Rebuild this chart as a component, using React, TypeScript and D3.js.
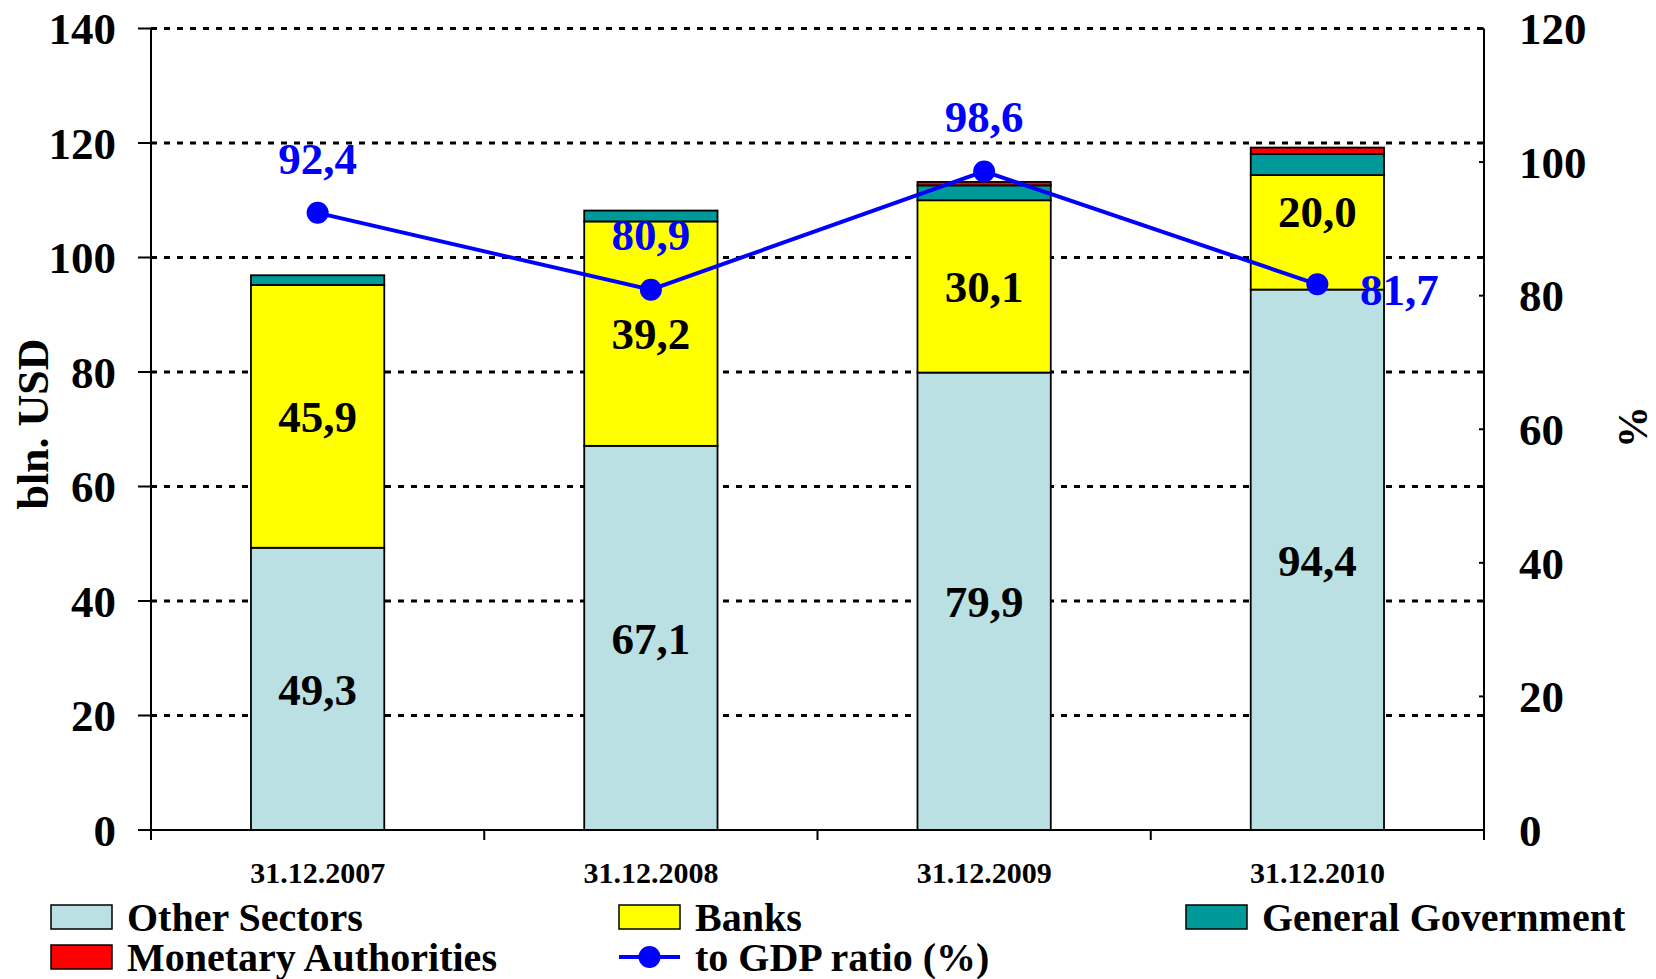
import React from "react";
import * as d3 from "d3";

const categories = ["31.12.2007", "31.12.2008", "31.12.2009", "31.12.2010"];
const otherSectors = [49.3, 67.1, 79.9, 94.4];
const banks = [45.9, 39.2, 30.1, 20.0];
const generalGov = [1.7, 1.9, 2.6, 3.7];
const monetaryAuth = [0, 0, 0.6, 1.1];
const gdpRatio = [92.4, 80.9, 98.6, 81.7];
const leftTicks = [0, 20, 40, 60, 80, 100, 120, 140];
const rightTicks = [0, 20, 40, 60, 80, 100, 120];

const seriesNames = ["Other Sectors", "Banks", "General Government", "Monetary Authorities"];
const seriesColors = ["#BBE0E3", "#FFFF00", "#009999", "#FF0000"];
const lineName = "to GDP ratio (%)";
const lineColor = "#0000FF";

const W = 1656;
const H = 979;
const M = { left: 151, right: 1484, top: 28.5, bottom: 830 };
const FONT = "'Liberation Serif', 'Times New Roman', serif";

const fmt = (v: number) => v.toFixed(1).replace(".", ",");

export default function App() {
  const x = d3.scaleBand<string>().domain(categories).range([M.left, M.right]).paddingInner(0.6).paddingOuter(0.3);
  const yL = d3.scaleLinear().domain([0, 140]).range([M.bottom, M.top]);
  const yR = d3.scaleLinear().domain([0, 120]).range([M.bottom, M.top]);

  const rows = categories.map((c, i) => ({
    cat: c,
    s0: otherSectors[i],
    s1: banks[i],
    s2: generalGov[i],
    s3: monetaryAuth[i],
  }));
  const stack = d3.stack<any>().keys(["s0", "s1", "s2", "s3"])(rows);

  const band = d3.scaleBand<string>().domain(categories).range([M.left, M.right]);
  const cx = (c: string) => (x(c) as number) + x.bandwidth() / 2;

  const line = d3
    .line<number>()
    .x((_, i) => cx(categories[i]))
    .y((d) => yR(d));

  const gdpLabelPos = (i: number) =>
    i === categories.length - 1 ? { dx: 82, dy: 5 } : { dx: 0, dy: -55 };

  return (
    <svg width={W} height={H} style={{ position: "absolute", left: 0, top: 0, background: "#fff" }} fontFamily={FONT} fontWeight="bold">
      {/* gridlines */}
      {leftTicks.filter((t) => t > 0).map((t) => (
        <line key={"g" + t} x1={M.left} x2={M.right} y1={yL(t)} y2={yL(t)} stroke="#000" strokeWidth={3} strokeDasharray="6 7" />
      ))}

      {/* bars */}
      {stack.map((layer, li) =>
        layer.map((d, i) => {
          const h = yL(d[0]) - yL(d[1]);
          if (h <= 0.01) return null;
          return (
            <rect
              key={`b${li}-${i}`}
              x={x(categories[i])}
              y={yL(d[1])}
              width={x.bandwidth()}
              height={h}
              fill={seriesColors[li]}
              stroke="#000"
              strokeWidth={1.8}
            />
          );
        })
      )}

      {/* bar labels */}
      {[0, 1].map((li) =>
        stack[li].map((d, i) => {
          const mid = (d[0] + d[1]) / 2;
          let yy = yL(mid);
          if (li === 1 && i === 3) yy -= 21;
          return (
            <text key={`l${li}-${i}`} x={cx(categories[i])} y={yy} dy="0.35em" textAnchor="middle" fontSize={45} fill="#000">
              {fmt(li === 0 ? otherSectors[i] : banks[i])}
            </text>
          );
        })
      )}

      {/* axes */}
      <line x1={M.left} x2={M.left} y1={M.top} y2={M.bottom} stroke="#000" strokeWidth={2} />
      <line x1={M.right} x2={M.right} y1={M.top} y2={M.bottom} stroke="#000" strokeWidth={2} />
      <line x1={M.left - 13} x2={M.right} y1={M.bottom} y2={M.bottom} stroke="#000" strokeWidth={2} />
      {leftTicks.map((t) => (
        <g key={"lt" + t}>
          <line x1={M.left - 13} x2={M.left} y1={yL(t)} y2={yL(t)} stroke="#000" strokeWidth={2} />
          <text x={116} y={yL(t)} dy="0.35em" textAnchor="end" fontSize={45} fill="#000">
            {t}
          </text>
        </g>
      ))}
      {rightTicks.map((t) => (
        <g key={"rt" + t}>
          <line x1={M.right - 5} x2={M.right} y1={yR(t)} y2={yR(t)} stroke="#000" strokeWidth={2} />
          <text x={1519} y={yR(t)} dy="0.35em" textAnchor="start" fontSize={45} fill="#000">
            {t}
          </text>
        </g>
      ))}
      {[...categories.map((c) => band(c) as number), M.right].map((v, i) => (
        <line key={"bt" + i} x1={v} x2={v} y1={M.bottom} y2={M.bottom + 10} stroke="#000" strokeWidth={2} />
      ))}
      {categories.map((c) => (
        <text key={"c" + c} x={cx(c)} y={872} dy="0.35em" textAnchor="middle" fontSize={30} fill="#000">
          {c}
        </text>
      ))}

      {/* axis titles */}
      <text transform="translate(33,424) rotate(-90)" dy="0.35em" textAnchor="middle" fontSize={44} fill="#000">
        bln. USD
      </text>
      <text transform="translate(1632,427) rotate(-90)" dy="0.35em" textAnchor="middle" fontSize={42} fill="#000">
        %
      </text>

      {/* line */}
      <path d={line(gdpRatio) as string} fill="none" stroke={lineColor} strokeWidth={4} />
      {gdpRatio.map((v, i) => (
        <circle key={"p" + i} cx={cx(categories[i])} cy={yR(v)} r={11} fill={lineColor} />
      ))}
      {gdpRatio.map((v, i) => {
        const p = gdpLabelPos(i);
        return (
          <text key={"pl" + i} x={cx(categories[i]) + p.dx} y={yR(v) + p.dy} dy="0.35em" textAnchor="middle" fontSize={45} fill={lineColor}>
            {fmt(v)}
          </text>
        );
      })}

      {/* legend */}
      {[
        { type: "rect", color: seriesColors[0], name: seriesNames[0], sx: 51, y: 917 },
        { type: "rect", color: seriesColors[1], name: seriesNames[1], sx: 619, y: 917 },
        { type: "rect", color: seriesColors[2], name: seriesNames[2], sx: 1186, y: 917 },
        { type: "rect", color: seriesColors[3], name: seriesNames[3], sx: 51, y: 957 },
        { type: "line", color: lineColor, name: lineName, sx: 619, y: 957 },
      ].map((it, i) => (
        <g key={"lg" + i}>
          {it.type === "rect" ? (
            <rect x={it.sx} y={it.y - 12} width={61} height={24} fill={it.color} stroke="#000" strokeWidth={1.5} />
          ) : (
            <g>
              <line x1={it.sx} x2={it.sx + 61} y1={it.y} y2={it.y} stroke={it.color} strokeWidth={4} />
              <circle cx={it.sx + 30.5} cy={it.y} r={11} fill={it.color} />
            </g>
          )}
          <text x={it.sx + 76} y={it.y} dy="0.35em" fontSize={40} fill="#000">
            {it.name}
          </text>
        </g>
      ))}
    </svg>
  );
}
